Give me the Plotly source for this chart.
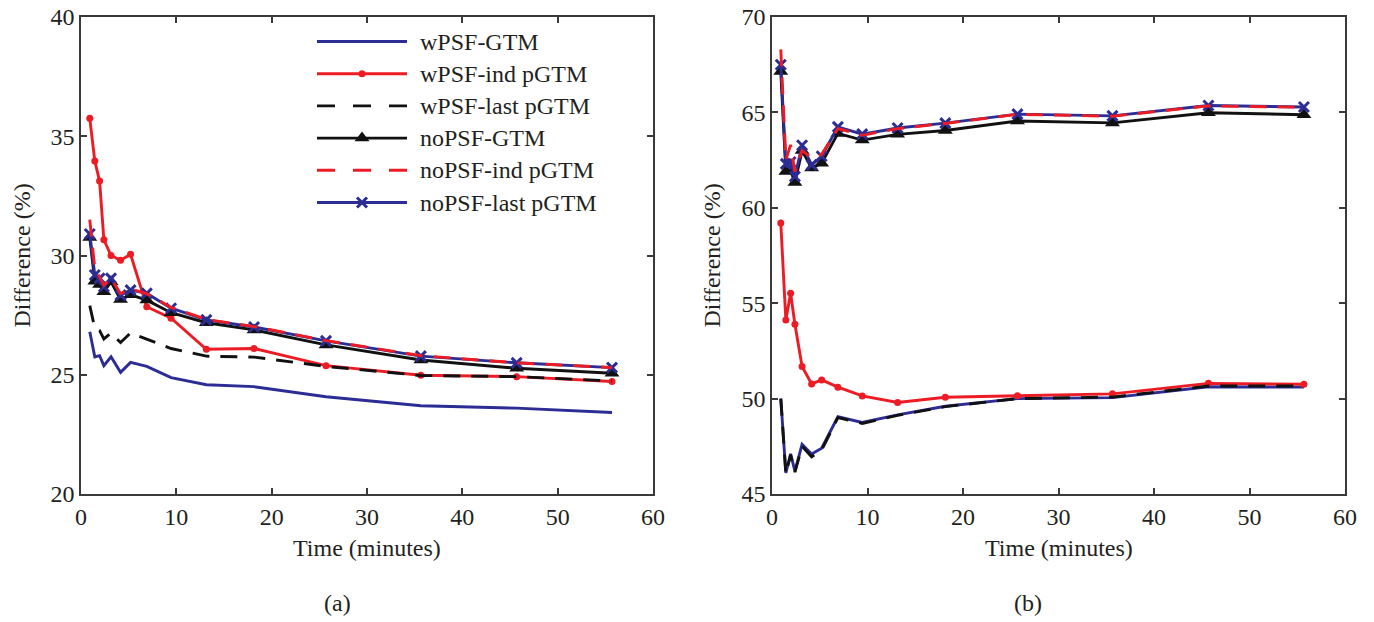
import plotly.graph_objects as go

# Frame mid-times (minutes)
times = [0.92, 1.45, 1.95, 2.4, 3.15, 4.15, 5.2, 6.9, 9.45, 13.15, 18.15, 25.7, 35.65, 45.7, 55.7]

# Panel (a): difference (%)
a_wpsf_gtm = [26.8, 25.75, 25.8, 25.38, 25.75, 25.1, 25.52, 25.35, 24.88, 24.58, 24.5, 24.08, 23.7, 23.6, 23.42]
a_wpsf_ind = [35.75, 33.96, 33.12, 30.66, 30.0, 29.8, 30.05, 27.85, 27.37, 26.07, 26.1, 25.38, 24.98, 24.92, 24.72]
a_wpsf_last = [27.9, 26.95, 26.85, 26.5, 26.75, 26.35, 26.75, 26.5, 26.1, 25.78, 25.74, 25.35, 24.97, 24.92, 24.74]
a_nopsf_gtm = [30.75, 28.92, 28.78, 28.48, 28.9, 28.15, 28.35, 28.13, 27.6, 27.18, 26.88, 26.25, 25.62, 25.27, 25.06]
a_nopsf_ind = [31.5, 29.45, 29.1, 28.75, 29.05, 28.4, 28.6, 28.4, 27.82, 27.32, 27.02, 26.43, 25.8, 25.5, 25.3]
a_nopsf_last = [30.9, 29.18, 29.04, 28.69, 29.04, 28.34, 28.55, 28.41, 27.79, 27.3, 27.0, 26.42, 25.78, 25.5, 25.3]

# Panel (b): difference (%)
b_wpsf_gtm = [50.0, 46.1, 47.1, 46.2, 47.6, 47.1, 47.4, 49.05, 48.75, 49.15, 49.6, 50.0, 50.05, 50.62, 50.6]
b_wpsf_ind = [59.2, 54.12, 55.52, 53.9, 51.68, 50.77, 50.98, 50.6, 50.14, 49.8, 50.07, 50.15, 50.25, 50.8, 50.75]
b_wpsf_last = [50.0, 46.05, 47.05, 46.15, 47.5, 46.95, 47.3, 49.0, 48.7, 49.12, 49.58, 50.0, 50.08, 50.66, 50.66]
b_nopsf_gtm = [67.15, 61.9, 61.95, 61.33, 63.0, 62.08, 62.34, 63.9, 63.55, 63.85, 64.05, 64.55, 64.45, 64.98, 64.88]
b_nopsf_ind = [68.3, 62.5, 63.3, 61.9, 63.0, 62.6, 62.8, 64.15, 63.8, 64.15, 64.42, 64.9, 64.8, 65.34, 65.27]
b_nopsf_last = [67.5, 62.3, 62.4, 61.64, 63.28, 62.25, 62.7, 64.24, 63.86, 64.18, 64.44, 64.91, 64.82, 65.36, 65.28]

series_names = ["wPSF-GTM", "wPSF-ind pGTM", "wPSF-last pGTM",
                "noPSF-GTM", "noPSF-ind pGTM", "noPSF-last pGTM"]
x_ticks = [0, 10, 20, 30, 40, 50, 60]
a_yticks = [20, 25, 30, 35, 40]
b_yticks = [45, 50, 55, 60, 65, 70]

BLUE = "#2b2d94"
RED = "#ed1c24"
BLACK = "#111111"
TEXT = "#231f20"
FONT = "Liberation Serif"
W, H = 1374, 622
LW = 2.9

# style per series: (color, dash, marker symbol, marker size)
styles = {
    "wPSF-GTM": (BLUE, "solid", None, 0),
    "wPSF-ind pGTM": (RED, "solid", "circle", 7),
    "wPSF-last pGTM": (BLACK, "17px,11px", None, 0),
    "noPSF-GTM": (BLACK, "solid", "triangle-up", 13),
    "noPSF-ind pGTM": (RED, "17px,11px", None, 0),
    "noPSF-last pGTM": (BLUE, "solid", "x-thin", 10),
}
# drawing order: solid lines below, dashed lines on top
draw_order = ["wPSF-GTM", "wPSF-ind pGTM", "noPSF-GTM", "noPSF-last pGTM",
              "wPSF-last pGTM", "noPSF-ind pGTM"]

panel_a = dict(zip(series_names, [a_wpsf_gtm, a_wpsf_ind, a_wpsf_last,
                                  a_nopsf_gtm, a_nopsf_ind, a_nopsf_last]))
panel_b = dict(zip(series_names, [b_wpsf_gtm, b_wpsf_ind, b_wpsf_last,
                                  b_nopsf_gtm, b_nopsf_ind, b_nopsf_last]))


def marker_for(color, symbol, size):
    if symbol is None:
        return None
    if symbol == "x-thin":
        return dict(symbol=symbol, size=size, color=color,
                    line=dict(color=color, width=3))
    return dict(symbol=symbol, size=size, color=color, line=dict(width=0))


fig = go.Figure()

for panel, xa, ya in [(panel_a, "x", "y"), (panel_b, "x2", "y2")]:
    for name in draw_order:
        color, dash, symbol, size = styles[name]
        mk = marker_for(color, symbol, size)
        fig.add_trace(go.Scatter(
            x=times, y=panel[name], name=name, xaxis=xa, yaxis=ya,
            mode="lines+markers" if mk else "lines",
            line=dict(color=color, width=LW, dash=dash),
            marker=mk,
            showlegend=False, hoverinfo="skip",
        ))

# Legend drawn inside panel (a) on a pixel-based overlay axis
leg_x0, leg_x1, leg_text_x = 317, 407, 418
leg_row0, leg_row_step = 41.5, 32.2
annotations = []
for i, name in enumerate(series_names):
    color, dash, symbol, size = styles[name]
    yrow = leg_row0 + i * leg_row_step
    fig.add_trace(go.Scatter(
        x=[leg_x0, leg_x1], y=[yrow, yrow], xaxis="x3", yaxis="y3",
        mode="lines", line=dict(color=color, width=LW,
                                dash="18px,18px" if dash != "solid" else "solid"),
        showlegend=False, hoverinfo="skip"))
    mk = marker_for(color, symbol, size)
    if mk:
        fig.add_trace(go.Scatter(
            x=[(leg_x0 + leg_x1) / 2], y=[yrow], xaxis="x3", yaxis="y3",
            mode="markers", marker=mk, showlegend=False, hoverinfo="skip"))
    annotations.append(dict(
        x=leg_text_x, y=yrow, xref="x3", yref="y3", text=name,
        showarrow=False, xanchor="left", yanchor="middle",
        font=dict(family=FONT, size=24, color=TEXT)))

# Plot-area boundaries in pixels
a_left, a_right = 81, 653
b_left, b_right = 772, 1345
p_top, p_bottom = 17, 494

axis_common = dict(
    showline=True, linecolor="#3a3a3a", linewidth=1.6, mirror="ticks",
    ticks="inside", ticklen=6, tickwidth=1.6, tickcolor="#3a3a3a",
    showgrid=False, zeroline=False, automargin=False,
    tickfont=dict(family=FONT, size=24, color=TEXT),
)

ydom = [(H - p_bottom) / H, (H - p_top) / H]

fig.update_layout(
    width=W, height=H, autosize=False,
    margin=dict(l=0, r=0, t=0, b=0, pad=0),
    paper_bgcolor="white", plot_bgcolor="rgba(0,0,0,0)",
    showlegend=False,
    xaxis=dict(domain=[a_left / W, a_right / W], range=[0, 60],
               tickvals=x_ticks, **axis_common),
    yaxis=dict(domain=ydom, range=[20, 40], tickvals=a_yticks, **axis_common),
    xaxis2=dict(domain=[b_left / W, b_right / W], range=[0, 60],
                tickvals=x_ticks, anchor="y2", **axis_common),
    yaxis2=dict(domain=ydom, range=[45, 70], tickvals=b_yticks, anchor="x2",
                **axis_common),
    xaxis3=dict(domain=[0, 1], range=[0, W], visible=False, anchor="y3",
                fixedrange=True),
    yaxis3=dict(domain=[0, 1], range=[H, 0], visible=False, anchor="x3",
                fixedrange=True),
)


def px(x):
    return x / W


def py(y):
    return 1 - y / H


title_font = dict(family=FONT, size=24, color=TEXT)
for cx, label in [((a_left + a_right) / 2, "Time (minutes)"),
                  ((b_left + b_right) / 2, "Time (minutes)")]:
    annotations.append(dict(x=px(cx), y=py(548), xref="paper", yref="paper",
                            text=label, showarrow=False, font=title_font,
                            xanchor="center", yanchor="middle"))
for cx in [22, 712]:
    annotations.append(dict(x=px(cx), y=py((p_top + p_bottom) / 2), xref="paper",
                            yref="paper", text="Difference (%)", textangle=-90,
                            showarrow=False, font=title_font,
                            xanchor="center", yanchor="middle"))
for cx, label in [(337, "(a)"), (1028, "(b)")]:
    annotations.append(dict(x=px(cx), y=py(603), xref="paper", yref="paper",
                            text=label, showarrow=False, font=title_font,
                            xanchor="center", yanchor="middle"))

fig.update_layout(annotations=annotations)
fig.write_html("out.html")
